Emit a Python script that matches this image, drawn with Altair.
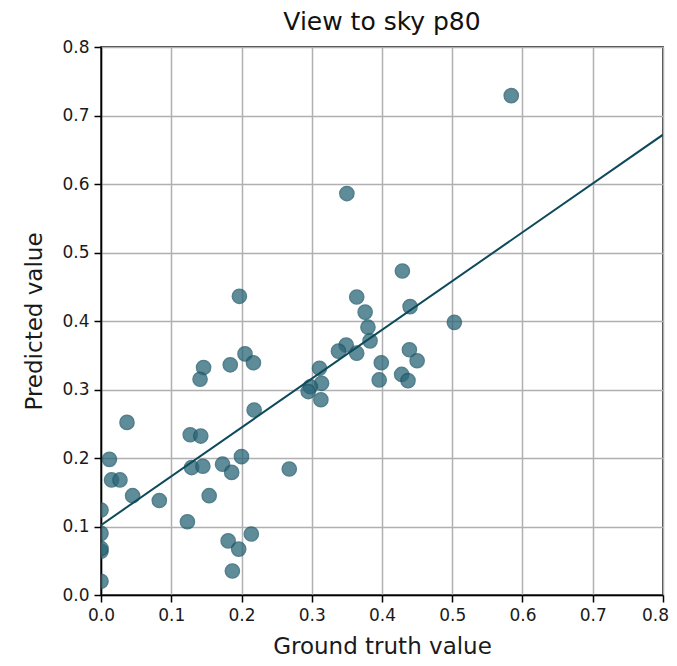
import altair as alt
import pandas as pd

ground_truth = [0.584, 0.350, 0.429, 0.197, 0.364, 0.376, 0.440, 0.503, 0.380, 0.383,
                0.205, 0.349, 0.338, 0.364, 0.439, 0.450, 0.399, 0.396, 0.428, 0.437,
                0.311, 0.314, 0.298, 0.295, 0.313, 0.217, 0.184, 0.146, 0.141, 0.218,
                0.037, 0.127, 0.142, 0.012, 0.015, 0.027, 0.045, 0.083, 0.0, 0.129,
                0.145, 0.173, 0.186, 0.200, 0.154, 0.123, 0.0, 0.0, 0.0, 0.181,
                0.196, 0.214, 0.187, 0.0, 0.268]
predicted = [0.729, 0.586, 0.473, 0.436, 0.435, 0.413, 0.421, 0.398, 0.391, 0.371,
             0.352, 0.365, 0.356, 0.353, 0.358, 0.342, 0.339, 0.314, 0.322, 0.313,
             0.331, 0.309, 0.304, 0.297, 0.285, 0.339, 0.336, 0.332, 0.315, 0.270,
             0.252, 0.234, 0.232, 0.198, 0.168, 0.168, 0.145, 0.138, 0.124, 0.186,
             0.188, 0.191, 0.179, 0.202, 0.145, 0.107, 0.090, 0.064, 0.068, 0.079,
             0.067, 0.089, 0.035, 0.020, 0.184]

fit_x = [0.0, 0.8]
fit_y = [0.102, 0.672]

pts = pd.DataFrame({"gt": ground_truth, "pred": predicted})
fit = pd.DataFrame({"gt": fit_x, "pred": fit_y})

ticks = [0.0, 0.1, 0.2, 0.3, 0.4, 0.5, 0.6, 0.7, 0.8]
xscale = alt.Scale(domain=[0, 0.8], nice=False, zero=False)
yscale = alt.Scale(domain=[0, 0.8], nice=False, zero=False)

axis_common = dict(values=ticks, format=".1f", grid=True, gridColor="#b0b0b0",
                   gridWidth=1.5, domainColor="black", domainWidth=1.5,
                   tickColor="black", tickSize=7, tickWidth=1.5,
                   labelFont="DejaVu Sans", labelFontSize=17, labelColor="#1a1a1a",
                   titleFont="DejaVu Sans", titleFontSize=23, titleFontWeight="normal",
                   titleColor="#1a1a1a", labelPadding=5, labelFlush=False,
                   labelOverlap=False)

points = alt.Chart(pts).mark_circle(
    size=200, color="#2a6678", opacity=0.75, stroke="#1c5566", strokeWidth=1.5,
    clip=True
).encode(
    x=alt.X("gt:Q", scale=xscale, title="Ground truth value",
            axis=alt.Axis(titlePadding=12,
                          labelOffset=alt.expr("datum.value >= 0.8 ? -8 : 0"),
                          **axis_common)),
    y=alt.Y("pred:Q", scale=yscale, title="Predicted value",
            axis=alt.Axis(titlePadding=15, **axis_common)),
)

line = alt.Chart(fit).mark_line(color="#0d4a5a", strokeWidth=2, clip=True).encode(
    x=alt.X("gt:Q", scale=xscale),
    y=alt.Y("pred:Q", scale=yscale),
)

chart = alt.layer(points, line).properties(
    width=562, height=548,
    title=alt.TitleParams("View to sky p80", font="DejaVu Sans", fontSize=25,
                          fontWeight="normal", color="#111111", offset=3,
                          frame="group"),
    autosize=alt.AutoSizeParams(type="none"),
    padding={"left": 93, "top": 39, "right": 6, "bottom": 63},
).configure_view(stroke="black", strokeWidth=1.5)

chart.save("out.html", embed_options={"renderer": "svg", "actions": False})
